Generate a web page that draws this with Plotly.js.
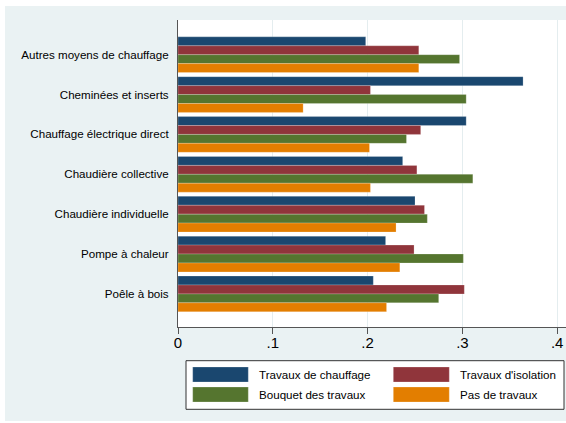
<!DOCTYPE html>
<html>
<head>
<meta charset="utf-8">
<script src="https://cdn.plot.ly/plotly-3.0.1.min.js"></script>
<style>html,body{margin:0;padding:0;background:#fff;}#chart{width:566px;height:423px;}</style>
</head>
<body>
<div id="chart"></div>
<script>
// ---- data ----
var categories = [
  "Autres moyens de chauffage",
  "Cheminées et inserts",
  "Chauffage électrique direct",
  "Chaudière collective",
  "Chaudière individuelle",
  "Pompe à chaleur",
  "Poêle à bois"
];
var seriesNames = ["Travaux de chauffage", "Travaux d'isolation", "Bouquet des travaux", "Pas de travaux"];
var travauxChauffage = [0.198, 0.364, 0.304, 0.237, 0.250, 0.219, 0.206];
var travauxIsolation = [0.254, 0.203, 0.256, 0.252, 0.260, 0.249, 0.302];
var bouquetTravaux   = [0.297, 0.304, 0.241, 0.311, 0.263, 0.301, 0.275];
var pasDeTravaux     = [0.254, 0.132, 0.202, 0.203, 0.230, 0.234, 0.220];
var xTickVals = [0, 0.1, 0.2, 0.3, 0.4];
var xTickText = ["0", ".1", ".2", ".3", ".4"];

// ---- styling ----
var colors = ["#1a476f", "#90353b", "#55752f", "#e37e00"];
var seriesValues = [travauxChauffage, travauxIsolation, bouquetTravaux, pasDeTravaux];
var FONT = "Liberation Sans, Arial, sans-serif";
var W = 566, H = 423;
var mL = 178, mR = 0, mT = 20, mB = 96;
var pw = W - mL - mR, ph = H - mT - mB;
function px(p){ return (p - mL) / pw; }
function py(q){ return (H - mB - q) / ph; }

var traces = seriesNames.map(function(name, i){
  return {
    type: "bar",
    orientation: "h",
    name: name,
    y: categories,
    x: seriesValues[i],
    marker: {color: colors[i], line: {width: 0.6, color: "rgba(255,255,255,0.35)"}},
    hoverinfo: "x+name"
  };
});

var bg = "#eaf2f3";
var shapes = [
  {type:"rect", xref:"paper", yref:"paper", x0:px(0), x1:px(5), y0:py(H), y1:py(0), fillcolor:"#fff", line:{width:0}, layer:"below"},
  {type:"rect", xref:"paper", yref:"paper", x0:px(0), x1:px(W), y0:py(6), y1:py(0), fillcolor:"#fff", line:{width:0}, layer:"below"},
  {type:"rect", xref:"paper", yref:"paper", x0:px(0), x1:px(W), y0:py(H), y1:py(421), fillcolor:"#fff", line:{width:0}, layer:"below"},
  {type:"rect", xref:"paper", yref:"paper", x0:px(186), x1:px(564), y0:py(409.3), y1:py(360.7), fillcolor:"#fff", line:{width:1, color:"#333"}}
];
var annotations = [];
var legCols = [[192.7, 248.3, 257.3], [393.3, 449.3, 458.3]];
var legRows = [[367, 382], [387, 402]];
seriesNames.forEach(function(name, i){
  var c = legCols[i % 2], r = legRows[Math.floor(i / 2)];
  shapes.push({type:"rect", xref:"paper", yref:"paper", x0:px(c[0]), x1:px(c[1]), y0:py(r[1]), y1:py(r[0]),
    fillcolor: colors[i], line:{width:0.6, color:"rgba(255,255,255,0.4)"}});
  annotations.push({xref:"paper", yref:"paper", x:px(c[2]), y:py((r[0]+r[1])/2), xanchor:"left", yanchor:"middle",
    text: name, showarrow:false, font:{family:FONT, size:11.6, color:"#000"}});
});

var layout = {
  width: W, height: H,
  margin: {l: mL, r: mR, t: mT, b: mB, pad: 0},
  paper_bgcolor: bg,
  plot_bgcolor: "#fff",
  barmode: "group",
  bargap: 0.105,
  bargroupgap: 0,
  showlegend: false,
  font: {family: FONT, color: "#000"},
  xaxis: {
    range: [0, (W - mL - mR) / 94.8 * 0.1],
    tickvals: xTickVals, ticktext: xTickText,
    ticks: "outside", ticklen: 6, tickcolor: "#555", tickwidth: 1,
    showline: true, linecolor: "#555", linewidth: 1,
    showgrid: true, gridcolor: "#e4edef", gridwidth: 1,
    zeroline: false,
    ticklabelstandoff: -4,
    tickfont: {family: FONT, size: 15, color: "#000"}
  },
  yaxis: {
    type: "category",
    categoryorder: "array", categoryarray: categories,
    range: [6.83, -0.87],
    showline: true, linecolor: "#555", linewidth: 1,
    ticks: "", showgrid: false, zeroline: false,
    ticklabelstandoff: 6,
    tickfont: {family: FONT, size: 11.6, color: "#000"}
  },
  shapes: shapes,
  annotations: annotations
};

Plotly.newPlot("chart", traces, layout, {displayModeBar: false, staticPlot: true});
</script>
</body>
</html>
